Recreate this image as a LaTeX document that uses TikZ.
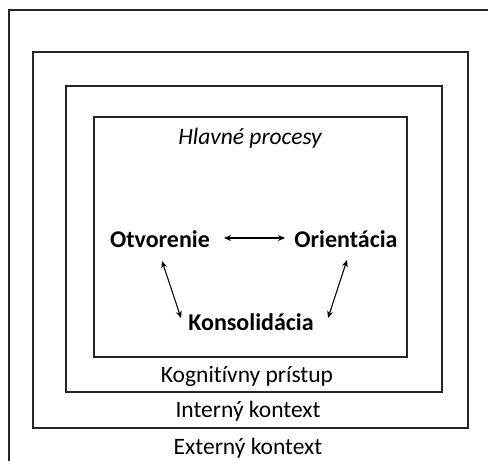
\documentclass[tikz,border=0pt]{standalone}
\usepackage{fontspec}
\setmainfont{Carlito}[Ligatures={NoCommon}]
\usetikzlibrary{arrows.meta}
\begin{document}
\begin{tikzpicture}[x=1pt,y=-1pt,
  frame/.style={draw=black!85,line width=1.8pt},
  lbl/.style={font=\fontsize{23.5}{26}\selectfont,inner sep=0pt},
  proc/.style={font=\fontsize{24}{27}\selectfont\bfseries,inner sep=0pt},
  link/.style={line width=1.1pt,{Stealth[length=7pt,width=6pt]}-{Stealth[length=7pt,width=6pt]}}]
\useasboundingbox (0,0) rectangle (488,461);
\fill[white] (0,0) rectangle (488,461);
\draw[frame,line width=1.5pt] (9,10) rectangle (500,475);
\draw[frame] (33,52) rectangle (468,428);
\draw[frame] (66,86) rectangle (442,392);
\draw[frame] (94,117) rectangle (407,357);
\node[lbl,font=\fontsize{23.5}{26}\selectfont\itshape] (hp) at (250,138) {Hlavné procesy};
\node[proc] (ot) at (160,239) {Otvorenie};
\node[proc] (or) at (346,239) {Orientácia};
\node[proc] (ko) at (251,322) {Konsolidácia};
\node[lbl] (kp) at (247,376) {Kognitívny prístup};
\node[lbl] (ik) at (248,411) {Interný kontext};
\node[lbl] (ek) at (248,448) {Externý kontext};
\coordinate (a1) at (224,238);
\coordinate (a2) at (285,238);
\coordinate (b1) at (162,261);
\coordinate (b2) at (181,318);
\coordinate (c1) at (347,260);
\coordinate (c2) at (328,318);
\draw[link] (a1) -- (a2);
\draw[link] (b1) -- (b2);
\draw[link] (c1) -- (c2);
\end{tikzpicture}
\end{document}
